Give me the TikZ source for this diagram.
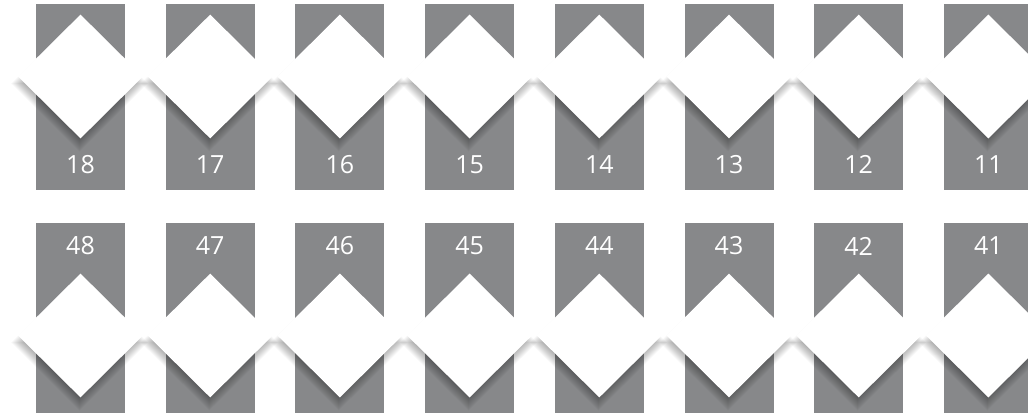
\documentclass[tikz,border=0pt]{standalone}
\usepackage{fontspec}
\newfontfamily\numfont{Open Sans}
\usetikzlibrary{shapes.geometric}
\definecolor{bargrey}{HTML}{87888A}
\tikzset{
  bar/.style={fill=bargrey, draw=none, minimum width=89pt, inner sep=0pt},
  gem/.style={diamond, fill=white, draw=none, inner sep=0pt, minimum width=125pt, minimum height=124pt},
  shadelayer/.style={fill=black, fill opacity=0.022, draw=none},
  num/.style={text=white, font=\numfont\fontsize{25}{25}\selectfont, inner sep=0pt}
}
\newcommand{\gemshadow}[2]{%
  \foreach \s in {-7,-6,...,6}{
    \fill[shadelayer] (#1-1-62.5-\s,#2+7) -- (#1-1,#2+7-62-\s) -- (#1-1+62.5+\s,#2+7) -- (#1-1,#2+7+62+\s) -- cycle;
  }}
\begin{document}
\begin{tikzpicture}[x=1pt,y=-1pt]
\useasboundingbox[fill=white] (0,0) rectangle (1028,413);
\foreach \i/\t/\b in {0/18/48,1/17/47,2/16/46,3/15/45,4/14/44,5/13/43,6/12/42,7/11/41}{
  \pgfmathsetmacro{\cx}{80.5+129.7*\i}
  \node[bar, minimum height=186pt] (top\i) at (\cx,97) {};
  \node[bar, minimum height=190pt] (bot\i) at (\cx,318) {};
}
\foreach \i/\t/\b in {0/18/48,1/17/47,2/16/46,3/15/45,4/14/44,5/13/43,6/12/42,7/11/41}{
  \pgfmathsetmacro{\cx}{80.5+129.7*\i}
  \gemshadow{\cx}{76.5}
  \gemshadow{\cx}{335.5}
  \node[gem] (dt\i) at (\cx,76.5) {};
  \node[gem] (db\i) at (\cx,335.5) {};
  \node[num] (lt\i) at (\cx,164.5) {\t};
  \node[num] (lb\i) at (\cx,246) {\b};
}
\end{tikzpicture}
\end{document}
